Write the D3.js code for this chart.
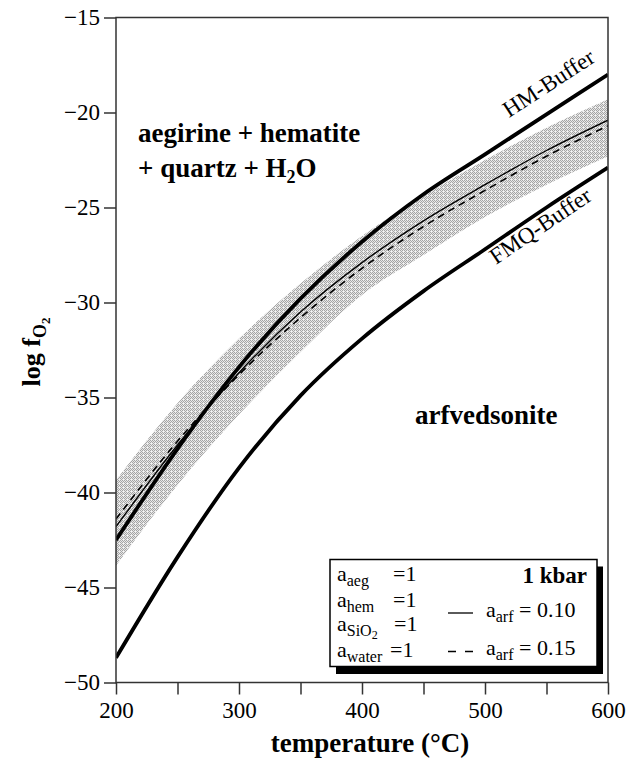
<!DOCTYPE html>
<html>
<head>
<meta charset="utf-8">
<script src="https://cdn.jsdelivr.net/npm/d3@7"></script>
<style>
  html, body { margin: 0; padding: 0; background: #fff; }
  svg { display: block; font-family: "Liberation Serif", "Times New Roman", serif; }
</style>
</head>
<body>
<svg id="chart" width="626" height="763"></svg>
<script>
// Temperatures (°C) at which the curves are tabulated
const temps = [200, 250, 300, 350, 400, 450, 500, 550, 600];

// Oxygen buffers (log fO2)
const hmBuffer  = [-42.5, -37.7, -33.4, -29.8, -26.8, -24.3, -22.2, -20.1, -18.0];
const fmqBuffer = [-48.7, -43.4, -38.7, -34.9, -31.9, -29.4, -27.2, -25.0, -22.9];

// Arfvedsonite stability limit for two arfvedsonite activities
const arf010 = [-41.8, -37.5, -33.7, -30.5, -27.9, -25.7, -23.8, -22.0, -20.4];
const arf015 = [-41.4, -37.3, -33.8, -30.8, -28.2, -26.0, -24.1, -22.3, -20.7];

// Uncertainty envelope around the reaction curve
const bandUpper = [-39.35, -35.3, -31.9, -29.0, -26.5, -24.4, -22.5, -20.8, -19.3];
const bandLower = [-43.85, -39.6, -35.9, -32.6, -29.6, -27.5, -25.5, -23.8, -22.3];

// Axis ticks
const xTicks = [200, 250, 300, 350, 400, 450, 500, 550, 600];
const xTickLabels = ["200", "", "300", "", "400", "", "500", "", "600"];
const yTicks = [-50, -45, -40, -35, -30, -25, -20, -15];
const yTickLabels = ["\u221250", "\u221245", "\u221240", "\u221235", "\u221230", "\u221225", "\u221220", "\u221215"];

const svg = d3.select("#chart");
const W = 626, H = 763;
const m = { left: 116, right: 18, top: 17.5, bottom: 80.5 };
const pw = W - m.left - m.right, ph = H - m.top - m.bottom;

const x = d3.scaleLinear().domain([200, 600]).range([m.left, m.left + pw]);
const y = d3.scaleLinear().domain([-50, -15]).range([m.top + ph, m.top]);

// fine checker stipple for the envelope
const defs = svg.append("defs");
const pat = defs.append("pattern").attr("id", "stipple")
  .attr("patternUnits", "userSpaceOnUse").attr("width", 4).attr("height", 4);
pat.append("rect").attr("width", 4).attr("height", 4).attr("fill", "#e8e8e8");
[[0, 0], [2, 0], [1, 1], [3, 1], [0, 2], [2, 2], [1, 3]].forEach(([px, py]) =>
  pat.append("rect").attr("x", px).attr("y", py).attr("width", 1).attr("height", 1)
    .attr("fill", "#a4a4a4"));
pat.append("rect").attr("x", 3).attr("y", 3).attr("width", 1).attr("height", 1).attr("fill", "#f4f4f4");

defs.append("clipPath").attr("id", "plotClip")
  .append("rect").attr("x", m.left).attr("y", m.top).attr("width", pw).attr("height", ph);

const plot = svg.append("g").attr("clip-path", "url(#plotClip)");

const bandData = temps.map((t, i) => ({ t, lo: bandLower[i], hi: bandUpper[i] }));
plot.append("path")
  .datum(bandData)
  .attr("fill", "url(#stipple)")
  .attr("d", d3.area().x(d => x(d.t)).y0(d => y(d.lo)).y1(d => y(d.hi)).curve(d3.curveMonotoneX));

const line = d3.line().x(d => x(d.t)).y(d => y(d.v)).curve(d3.curveMonotoneX);
const series = (vals) => temps.map((t, i) => ({ t, v: vals[i] }));

plot.append("path").datum(series(arf015)).attr("d", line)
  .attr("fill", "none").attr("stroke", "#000").attr("stroke-width", 1.6)
  .attr("stroke-dasharray", "7,5");
plot.append("path").datum(series(arf010)).attr("d", line)
  .attr("fill", "none").attr("stroke", "#000").attr("stroke-width", 1.4);
plot.append("path").datum(series(hmBuffer)).attr("d", line)
  .attr("fill", "none").attr("stroke", "#000").attr("stroke-width", 3.8);
plot.append("path").datum(series(fmqBuffer)).attr("d", line)
  .attr("fill", "none").attr("stroke", "#000").attr("stroke-width", 3.8);

// frame
svg.append("rect").attr("x", m.left).attr("y", m.top).attr("width", pw).attr("height", ph)
  .attr("fill", "none").attr("stroke", "#333").attr("stroke-width", 1.5);

// axes
const xAxis = svg.append("g").attr("transform", `translate(0,${m.top + ph})`)
  .call(d3.axisBottom(x).tickValues(xTicks).tickSize(12).tickSizeOuter(0)
    .tickFormat((d, i) => xTickLabels[i]));
xAxis.select(".domain").remove();
xAxis.selectAll(".tick line").attr("stroke", "#333").attr("stroke-width", 1.5);
xAxis.selectAll(".tick text").attr("y", 35.5).attr("dy", null)
  .attr("font-size", 23).attr("font-family", "Liberation Serif").attr("fill", "#000");

const yAxis = svg.append("g").attr("transform", `translate(${m.left},0)`)
  .call(d3.axisLeft(y).tickValues(yTicks).tickSize(12).tickSizeOuter(0)
    .tickFormat((d, i) => yTickLabels[i]));
yAxis.select(".domain").remove();
yAxis.selectAll(".tick line").attr("stroke", "#333").attr("stroke-width", 1.5);
yAxis.selectAll(".tick text").attr("x", -16)
  .attr("font-size", 23).attr("font-family", "Liberation Serif").attr("fill", "#000");

// axis titles
svg.append("text").attr("x", 370).attr("y", 752).attr("text-anchor", "middle")
  .attr("font-size", 27).attr("font-weight", "bold").text("temperature (°C)");

const yl = svg.append("text").attr("transform", "translate(40,352) rotate(-90)")
  .attr("text-anchor", "middle").attr("font-size", 26).attr("font-weight", "bold");
yl.append("tspan").text("log f");
yl.append("tspan").attr("font-size", 18).attr("dy", 6).text("O");
yl.append("tspan").attr("font-size", 13).attr("dy", 4).text("2");

// field labels
svg.append("text").attr("x", 138).attr("y", 141.7).attr("font-size", 27).attr("font-weight", "bold")
  .text("aegirine + hematite");
const l2 = svg.append("text").attr("x", 138).attr("y", 176.7).attr("font-size", 27).attr("font-weight", "bold");
l2.append("tspan").text("+ quartz + H");
l2.append("tspan").attr("font-size", 18).attr("dy", 6).text("2");
l2.append("tspan").attr("dy", -6).text("O");

svg.append("text").attr("x", 415).attr("y", 424).attr("font-size", 27).attr("font-weight", "bold")
  .text("arfvedsonite");

svg.append("text").attr("transform", "translate(509,118) rotate(-33)")
  .attr("font-size", 23).text("HM-Buffer");
svg.append("text").attr("transform", "translate(496,265) rotate(-34)")
  .attr("font-size", 23).text("FMQ-Buffer");

// legend
const lg = svg.append("g");
lg.append("rect").attr("x", 336).attr("y", 566.5).attr("width", 267).attr("height", 107.5).attr("fill", "#000");
lg.append("rect").attr("x", 330).attr("y", 559.5).attr("width", 267).attr("height", 107)
  .attr("fill", "#fff").attr("stroke", "#000").attr("stroke-width", 1.5);

const acts = [
  { sub: "aeg", y: 581, eq: 393 },
  { sub: "hem", y: 606.5, eq: 393 },
  { sub: "SiO", sub2: "2", y: 631, eq: 394 },
  { sub: "water", y: 656.5, eq: 390 }
];
acts.forEach(a => {
  const t = lg.append("text").attr("x", 337).attr("y", a.y).attr("font-size", 22);
  t.append("tspan").text("a");
  t.append("tspan").attr("font-size", 16).attr("dy", 5).text(a.sub);
  if (a.sub2) t.append("tspan").attr("font-size", 12).attr("dy", 3).text(a.sub2);
  lg.append("text").attr("x", a.eq).attr("y", a.y).attr("font-size", 22).text("=1");
});

lg.append("text").attr("x", 587).attr("y", 583).attr("text-anchor", "end")
  .attr("font-size", 23).attr("font-weight", "bold").text("1 kbar");

lg.append("line").attr("x1", 448).attr("x2", 473).attr("y1", 613).attr("y2", 613)
  .attr("stroke", "#000").attr("stroke-width", 1.3);
lg.append("line").attr("x1", 448).attr("x2", 473).attr("y1", 651.5).attr("y2", 651.5)
  .attr("stroke", "#000").attr("stroke-width", 1.3).attr("stroke-dasharray", "8,9");

[{ y: 617, v: "0.10" }, { y: 655, v: "0.15" }].forEach(r => {
  const t = lg.append("text").attr("x", 486).attr("y", r.y).attr("font-size", 22);
  t.append("tspan").text("a");
  t.append("tspan").attr("font-size", 16).attr("dy", 5).text("arf");
  t.append("tspan").attr("dy", -5).text(" = " + r.v);
});
</script>
</body>
</html>
